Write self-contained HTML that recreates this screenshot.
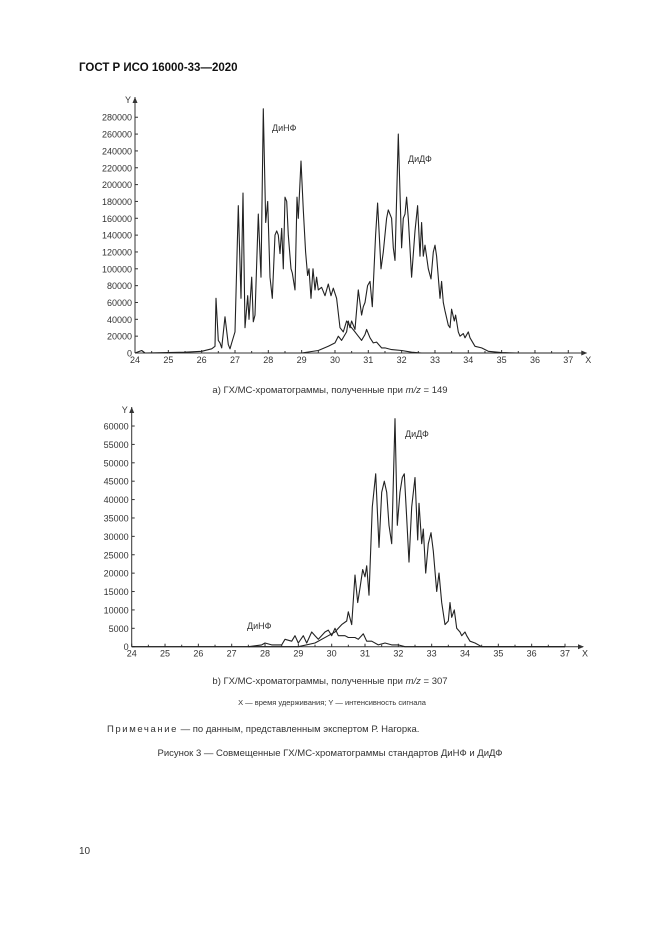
<!DOCTYPE html>
<html><head><meta charset="utf-8"><style>
body{margin:0;background:#fff;width:661px;height:935px;overflow:hidden;font-family:"Liberation Sans",Arial,sans-serif;color:#222}
svg{position:absolute;left:0;top:0}
</style></head><body>
<svg id="s" width="661" height="935" xmlns="http://www.w3.org/2000/svg" font-family="Liberation Sans, Arial, sans-serif" fill="#333">
<text x="79" y="71" font-size="11.5" font-weight="bold" fill="#111">ГОСТ Р ИСО 16000-33—2020</text>
<text x="330" y="393" font-size="9.5" text-anchor="middle">a) ГХ/МС-хроматограммы, полученные при <tspan font-style="italic">m/z</tspan> = 149</text>
<text x="330" y="684" font-size="9.5" text-anchor="middle">b) ГХ/МС-хроматограммы, полученные при <tspan font-style="italic">m/z</tspan> = 307</text>
<text x="332" y="705" font-size="7.5" text-anchor="middle">X — время удерживания; Y — интенсивность сигнала</text>
<text x="107" y="732" font-size="9.5"><tspan letter-spacing="1.6">Примечание</tspan> — по данным, представленным экспертом Р. Нагорка.</text>
<text x="330" y="756" font-size="9.5" text-anchor="middle">Рисунок 3 — Совмещенные ГХ/МС-хроматограммы стандартов ДиНФ и ДиДФ</text>
<text x="79" y="854" font-size="10">10</text>
<g id="g"></g>
</svg>
<script>
const g=document.getElementById('g');let h='';
function chart(ax,by,pxu,ytop,ystep,ypx,nY,series,labels,top){
 const X=v=>ax+(v-24)*pxu;
 h+=`<line x1="${ax}" y1="${by}" x2="${ax}" y2="${top}" stroke="#333" stroke-width="1"/>`;
 h+=`<path d="M${ax-2.5} ${top+6}L${ax} ${top}L${ax+2.5} ${top+6}Z" fill="#333"/>`;
 h+=`<text x="${ax-10}" y="${top+6}" font-size="9">Y</text>`;
 h+=`<line x1="${ax}" y1="${by}" x2="${X(37)+18}" y2="${by}" stroke="#333"/>`;
 h+=`<path d="M${X(37)+13} ${by-2.5}L${X(37)+19} ${by}L${X(37)+13} ${by+2.5}Z" fill="#333"/>`;
 h+=`<text x="${X(37)+17}" y="${by+10}" font-size="9">X</text>`;
 for(let i=24;i<=37;i++){h+=`<line x1="${X(i)}" y1="${by}" x2="${X(i)}" y2="${by-3}" stroke="#333"/><text x="${X(i)}" y="${by+10}" font-size="9" text-anchor="middle">${i}</text>`;
  if(i<37)h+=`<line x1="${X(i+.5)}" y1="${by}" x2="${X(i+.5)}" y2="${by-2}" stroke="#333"/>`;}
 for(let k=0;k<=nY;k++){const y=by-k*ypx;h+=`<line x1="${ax}" y1="${y}" x2="${ax+3}" y2="${y}" stroke="#333"/><text x="${ax-3}" y="${y+3.5}" font-size="9" text-anchor="end">${k*ystep}</text>`;}
 for(const s of series){let d='';for(let i=0;i<s.length;i+=2){d+=(i?'L':'M')+X(s[i]).toFixed(1)+' '+(by-s[i+1]/ystep*ypx).toFixed(1);}
  h+=`<path d="${d}" fill="none" stroke="#222" stroke-width="1.1" stroke-linejoin="round"/>`;}
 for(const l of labels)h+=`<text x="${l[0]}" y="${l[1]}" font-size="9">${l[2]}</text>`;
}
const A=[24,0,24.2,3,24.3,0,25.5,1,26,2,26.3,5,26.4,8,26.43,65,26.5,15,26.55,12,26.6,6,26.7,43,26.8,10,26.85,5,26.9,12,27,25,27.1,175,27.18,65,27.24,190,27.3,30,27.38,68,27.42,40,27.5,90,27.55,37,27.6,45,27.7,165,27.78,90,27.85,290,27.92,155,27.98,180,28.05,90,28.12,65,28.2,140,28.25,145,28.3,140,28.35,118,28.4,148,28.45,100,28.5,185,28.55,180,28.6,140,28.68,100,28.72,95,28.8,75,28.86,185,28.9,160,28.98,228,29.05,170,29.12,120,29.18,92,29.22,100,29.28,65,29.34,100,29.4,75,29.45,90,29.5,75,29.6,78,29.7,68,29.8,82,29.88,68,29.95,77,30.05,65,30.15,30,30.25,25,30.35,38,30.45,32,30.5,30,30.6,25,30.7,20,30.8,15,30.9,22,30.95,28,31.05,18,31.15,12,31.25,13,31.4,6,31.5,6,31.7,4,32,3,32.3,1,32.6,0,37,0].map((v,i)=>i%2?v*1000:v);
const B=[27.8,0,29,0,29.5,3,29.8,8,30,12,30.1,20,30.2,15,30.35,25,30.4,38,30.45,30,30.5,38,30.6,28,30.7,75,30.8,45,30.85,55,30.9,60,30.98,80,31.05,85,31.12,55,31.22,140,31.28,178,31.38,100,31.45,120,31.55,160,31.6,170,31.7,160,31.75,125,31.8,110,31.9,260,32,125,32.05,160,32.1,165,32.15,185,32.2,160,32.3,90,32.4,145,32.48,175,32.55,115,32.6,155,32.65,115,32.7,128,32.8,100,32.88,88,32.95,120,33,128,33.05,115,33.15,65,33.2,85,33.25,60,33.3,50,33.4,33,33.45,30,33.5,52,33.58,38,33.62,45,33.7,25,33.75,20,33.85,23,33.9,18,34,25,34.05,18,34.2,8,34.4,6,34.6,2,35,0.5,35.5,0,37,0].map((v,i)=>i%2?v*1000:v);
const C=[27.5,0,29,0,29.5,1,29.9,3,30.1,4,30.2,5,30.3,6,30.45,7,30.5,9.5,30.6,6,30.7,19.5,30.78,12,30.85,16,30.93,21,31,19,31.05,22,31.12,14,31.22,38,31.32,47,31.42,27,31.5,42,31.58,45,31.65,42,31.72,33,31.8,28,31.9,62,31.97,33,32.05,42,32.12,46,32.18,47,32.25,35,32.32,23,32.4,38,32.5,46,32.58,29,32.62,39,32.7,28,32.75,32,32.82,20,32.9,28,32.98,31,33.05,26,33.15,15,33.22,20,33.3,12,33.4,6,33.5,7,33.55,12,33.6,8,33.68,10,33.75,5,33.85,4,33.9,3,34,4,34.05,3,34.15,1.5,34.3,1,34.5,0,37,0].map((v,i)=>i%2?v*1000:v);
const D=[24,0,27.5,0,27.9,0.5,28,1,28.2,0.5,28.5,0.5,28.6,2,28.8,1.5,28.9,3,29,1,29.15,3,29.25,1,29.4,4,29.5,3,29.6,2,29.8,4,29.9,4.5,30,3,30.1,5,30.2,3,30.4,3,30.5,2.5,30.7,2.5,30.8,2,30.95,3.5,31.05,1.5,31.2,1.5,31.4,0.5,31.6,1,31.8,0.5,32,0.5,32.2,0,37,0].map((v,i)=>i%2?v*1000:v);
chart(135,353,33.33,97,20000,16.84,14,[A,B],[[272,131,'ДиНФ'],[408,162,'ДиДФ']],97);
chart(131.7,646.7,33.33,407,5000,18.39,12,[D,C],[[405,437,'ДиДФ'],[247,629,'ДиНФ']],407);
g.innerHTML=h;
</script>
</body></html>
